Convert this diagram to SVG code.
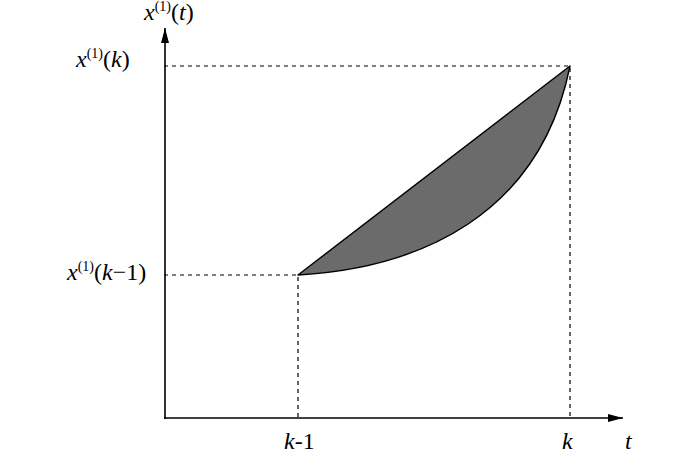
<svg xmlns="http://www.w3.org/2000/svg" width="700" height="454" viewBox="0 0 700 454">
<style>
.axis{stroke:#000;stroke-width:1.6;fill:none}
.dash{stroke:#000;stroke-width:1.2;stroke-dasharray:4,4;fill:none}
</style>
<defs>
<marker id="arr" markerWidth="16" markerHeight="10" refX="15" refY="5" orient="auto" markerUnits="userSpaceOnUse">
<path d="M0,1 L15,5 L0,9 Z" fill="#000"/>
</marker>
</defs>
<rect width="700" height="454" fill="#fff"/>
<g id="connectors">
<path class="dash" d="M164,66 H570 V418"/>
<path class="dash" d="M164,275 H298 V418"/>
<line class="axis" x1="165" y1="419" x2="165" y2="28" marker-end="url(#arr)"/>
<line class="axis" x1="164" y1="418" x2="623" y2="418" marker-end="url(#arr)"/>
</g>
<g id="region">
<path d="M298,275 C420,268 540,215 570,66 Z" fill="#6b6b6b" stroke="#000" stroke-width="1.4" stroke-linejoin="round"/>
</g>
<g id="labels" style="font-family:'Liberation Serif','Times New Roman',serif;font-size:24px" fill="#000">
<g id="label-yaxis">
<text x="144" y="20" style="font-family:'Liberation Serif',serif;font-size:24px"><tspan style="font-style:italic">x</tspan><tspan style="font-size:14px" dy="-9">(1)</tspan><tspan dy="9">(</tspan><tspan style="font-style:italic">t</tspan>)</text>
</g>
<g id="label-xk">
<text x="76" y="67" style="font-family:'Liberation Serif',serif;font-size:24px"><tspan style="font-style:italic">x</tspan><tspan style="font-size:14px" dy="-9">(1)</tspan><tspan dy="9">(</tspan><tspan style="font-style:italic">k</tspan>)</text>
</g>
<g id="label-xk1">
<text x="67" y="280" style="font-family:'Liberation Serif',serif;font-size:24px"><tspan style="font-style:italic">x</tspan><tspan style="font-size:14px" dy="-9">(1)</tspan><tspan dy="9">(</tspan><tspan style="font-style:italic">k</tspan>−1)</text>
</g>
<g id="label-k1">
<text x="284" y="449" style="font-family:'Liberation Serif',serif;font-size:24px"><tspan style="font-style:italic">k</tspan>-1</text>
</g>
<g id="label-k">
<text x="562" y="449" style="font-family:'Liberation Serif',serif;font-size:24px;font-style:italic">k</text>
</g>
<g id="label-t">
<text x="625" y="449" style="font-family:'Liberation Serif',serif;font-size:24px;font-style:italic">t</text>
</g>
</g>
</svg>
